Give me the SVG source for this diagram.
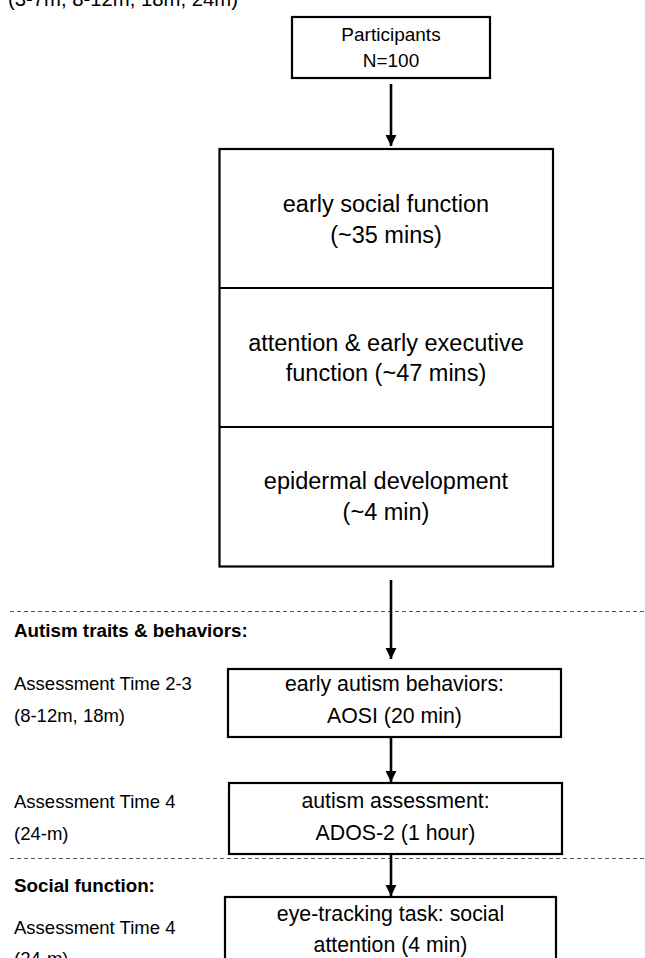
<svg xmlns="http://www.w3.org/2000/svg" width="645" height="958" viewBox="0 0 645 958">
<defs>
<style>
.box{fill:#fff;stroke:#000;stroke-width:2.2}
.t{font-family:"Liberation Sans",Arial,sans-serif;fill:#000}
.big{font-size:23.5px;text-anchor:middle}
.mid{font-size:21.3px;text-anchor:middle}
.lab{font-size:18.5px}
.hd{font-size:18.8px;font-weight:bold}
.conn{stroke:#000;stroke-width:2.6;fill:none}
.dash{stroke:#555;stroke-width:1.2;stroke-dasharray:4 3;fill:none}
</style>
<marker id="ah" viewBox="0 0 10 10" refX="10" refY="5" markerWidth="4.2" markerHeight="5.2" markerUnits="strokeWidth" orient="auto">
<path d="M0,0 L10,5 L0,10 z" fill="#000"/>
</marker>
</defs>
<rect width="645" height="958" fill="#fff"/>
<text class="t" x="8" y="6" font-size="20.3">(3-7m, 8-12m, 18m, 24m)</text>
<g id="participants">
<rect class="box" x="292" y="17" width="198" height="61"/>
<text class="t" x="391" y="41" font-size="19" text-anchor="middle">Participants</text>
<text class="t" x="391" y="67" font-size="19" text-anchor="middle">N=100</text>
</g>
<g id="session">
<rect class="box" x="219.5" y="149" width="333.5" height="417.5"/>
<line x1="219.5" y1="288" x2="553" y2="288" stroke="#000" stroke-width="2.2"/>
<line x1="219.5" y1="427" x2="553" y2="427" stroke="#000" stroke-width="2.2"/>
<text class="t big" x="386" y="212">early social function</text>
<text class="t big" x="386" y="243">(~35 mins)</text>
<text class="t big" x="386" y="351">attention &amp; early executive</text>
<text class="t big" x="386" y="381">function (~47 mins)</text>
<text class="t big" x="386" y="489">epidermal development</text>
<text class="t big" x="386" y="520">(~4 min)</text>
</g>
<g id="section-autism">
<line class="dash" x1="10" y1="611.5" x2="645" y2="611.5"/>
<text class="t hd" x="14" y="637">Autism traits &amp; behaviors:</text>
<text class="t lab" x="14" y="690">Assessment Time 2-3</text>
<text class="t lab" x="14" y="722">(8-12m, 18m)</text>
<text class="t lab" x="14" y="808">Assessment Time 4</text>
<text class="t lab" x="14" y="840">(24-m)</text>
</g>
<g id="aosi">
<rect class="box" x="228" y="669" width="333" height="68"/>
<text class="t mid" x="394.5" y="691">early autism behaviors:</text>
<text class="t mid" x="394.5" y="723">AOSI (20 min)</text>
</g>
<g id="ados">
<rect class="box" x="229" y="783" width="333" height="71"/>
<text class="t mid" x="395.5" y="808">autism assessment:</text>
<text class="t mid" x="395.5" y="840">ADOS-2 (1 hour)</text>
</g>
<g id="section-social">
<line class="dash" x1="10" y1="858.5" x2="645" y2="858.5"/>
<text class="t hd" x="14" y="892">Social function:</text>
<text class="t lab" x="14" y="934">Assessment Time 4</text>
<text class="t lab" x="14" y="965">(24-m)</text>
</g>
<g id="eyetracking">
<rect class="box" x="225" y="897" width="331" height="80"/>
<text class="t mid" x="390.5" y="921">eye-tracking task: social</text>
<text class="t mid" x="390.5" y="952">attention (4 min)</text>
</g>
<g id="connectors">
<line class="conn" x1="391" y1="84" x2="391" y2="146" marker-end="url(#ah)"/>
<line class="conn" x1="391" y1="580" x2="391" y2="659" marker-end="url(#ah)"/>
<line class="conn" x1="391" y1="737" x2="391" y2="782" marker-end="url(#ah)"/>
<line class="conn" x1="391" y1="854" x2="391" y2="896" marker-end="url(#ah)"/>
</g>
</svg>
